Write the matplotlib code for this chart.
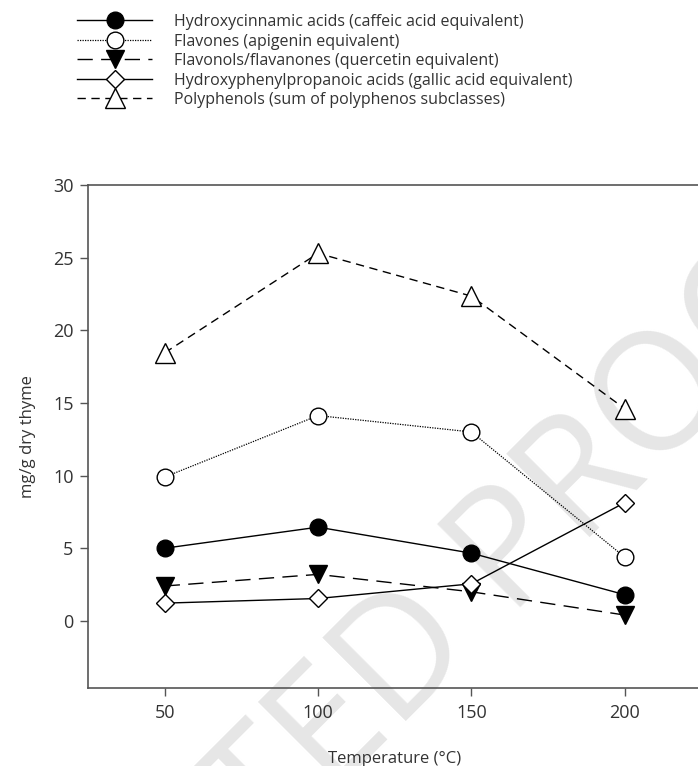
import matplotlib.pyplot as plt

plt.rcParams['font.family'] = ['Open Sans', 'DejaVu Sans']

# temperatures (deg C)
temps = [50, 100, 150, 200]

# mg/g dry thyme
hydroxycinnamic = [5.0, 6.45, 4.66, 1.8]
flavones = [9.9, 14.13, 13.0, 4.38]
flavonols = [2.4, 3.2, 2.0, 0.4]
hydroxyphenylpropanoic = [1.22, 1.54, 2.55, 8.14]
polyphenols = [18.45, 25.3, 22.35, 14.6]

labels = [
    'Hydroxycinnamic acids (caffeic acid equivalent)',
    'Flavones (apigenin equivalent)',
    'Flavonols/flavanones (quercetin equivalent)',
    'Hydroxyphenylpropanoic acids (gallic acid equivalent)',
    'Polyphenols (sum of polyphenos subclasses)',
]
xticks = [50, 100, 150, 200]
yticks = [0, 5, 10, 15, 20, 25, 30]

fig = plt.figure(figsize=(6.98, 7.66), dpi=100)
ax = fig.add_axes([88 / 698, 78.3 / 766, 613.5 / 698, 502.7 / 766])
ax.set_zorder(1)
ax.patch.set_alpha(0)

# faint watermark behind everything
fig.text(372 / 698, 1 - 695 / 766, 'ACCEPTED PROOF', fontsize=118,
         color='#e6e6e6', rotation=45, rotation_mode='anchor',
         ha='center', va='center', zorder=0)

ms = 12
h1, = ax.plot(temps, hydroxycinnamic, color='black', lw=1.0, marker='o',
              ms=ms, mfc='black', mec='black')
h2, = ax.plot(temps, flavones, color='black', lw=0.9, ls=(0, (1, 1)),
              marker='o', ms=ms, mfc='white', mec='black', mew=1.0)
h3, = ax.plot(temps, flavonols, color='black', lw=1.0, ls=(0, (11, 6)),
              marker='v', ms=ms + 1, mfc='black', mec='black')
h4, = ax.plot(temps, hydroxyphenylpropanoic, color='black', lw=1.0,
              marker='D', ms=ms - 2.5, mfc='white', mec='black', mew=1.0)
h5, = ax.plot(temps, polyphenols, color='black', lw=1.0, ls=(0, (6, 4)),
              marker='^', ms=ms + 2, mfc='white', mec='black', mew=1.0)

ax.set_xlim(25, 225)
ax.set_ylim(-4.6, 30)
ax.set_xticks(xticks)
ax.set_yticks(yticks)
ax.tick_params(direction='out', length=5.5, width=1, color='#555555',
               labelsize=13, labelcolor='#333333')
ax.tick_params(axis='x', pad=6)
ax.tick_params(axis='y', pad=5)
for side in ['left', 'bottom', 'top']:
    ax.spines[side].set_color('#555555')
    ax.spines[side].set_linewidth(1.2)
ax.spines['right'].set_visible(False)

ax.set_xlabel('Temperature (°C)', fontsize=12, color='#333333', labelpad=21)
ax.set_ylabel('mg/g dry thyme', fontsize=12, color='#333333', labelpad=12)

fig.legend([h1, h2, h3, h4, h5], labels, loc='upper left',
           bbox_to_anchor=(77 / 698, 1 - 14 / 766), frameon=False,
           handlelength=4.7, handletextpad=1.4, labelspacing=0.22,
           numpoints=1, fontsize=11.5, borderaxespad=0, borderpad=0,
           labelcolor='#333333')

fig.savefig('out.png', dpi=100)
